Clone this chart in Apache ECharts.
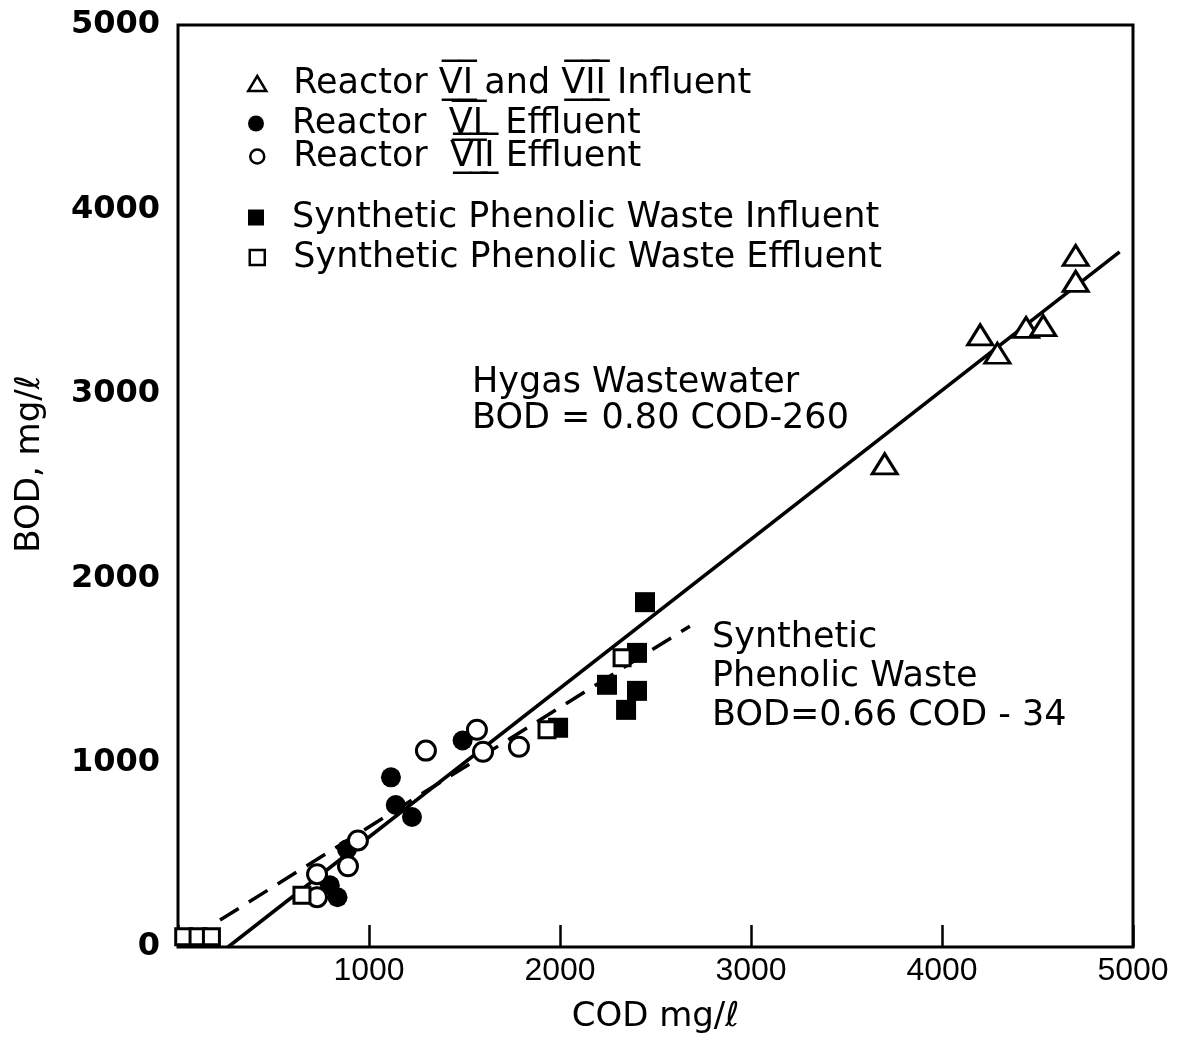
<!DOCTYPE html>
<html><head><meta charset="utf-8">
<script src="https://cdn.jsdelivr.net/npm/echarts@6/dist/echarts.min.js"></script>
<style>html,body{margin:0;padding:0;background:#fff}#c{width:1187px;height:1039px}</style>
</head><body><div id="c"></div>
<script>
// ---- data (COD mg/l, BOD mg/l) ----
const axisTicks = [0, 1000, 2000, 3000, 4000, 5000];

const influentCOD = [3700, 4200, 4290, 4440, 4530, 4700, 4700];
const influentBOD = [2620, 3320, 3220, 3360, 3370, 3750, 3610];

const r6EffCOD = [795, 835, 885, 1115, 1140, 1225, 1490];
const r6EffBOD = [335, 270, 530, 920, 770, 705, 1120];

const r7EffCOD = [728, 728, 890, 942, 1298, 1565, 1597, 1785];
const r7EffBOD = [395, 270, 438, 578, 1065, 1178, 1059, 1086];

const synInfCOD = [2445, 2403, 2246, 2403, 2346, 1990];
const synInfBOD = [1870, 1595, 1422, 1389, 1286, 1189];

const synEffCOD = [30, 105, 175, 649, 2325, 1932];
const synEffBOD = [55, 55, 55, 281, 1568, 1178];

const hygasLineCOD = [262, 4930];
const hygasLineBOD = [0, 3770];
const synLineCOD = [220, 2680];
const synLineBOD = [146, 1740];

const VI = 'V\u0305\u0332I\u0305\u0332';
const VII = 'V\u0305\u0332I\u0305\u0332I\u0305\u0332';
const names = [
  'Reactor ' + VI + ' and ' + VII + ' Influent',
  'Reactor  ' + VI + '  Effluent',
  'Reactor  ' + VII + ' Effluent',
  'Synthetic Phenolic Waste Influent',
  'Synthetic Phenolic Waste Effluent'
];
const legendRows = [84, 124, 157, 218, 258];

const zip = (a, b) => a.map((v, i) => [v, b[i]]);
const FONT = 'DejaVu Sans';

const chart = echarts.init(document.getElementById('c'));
const openStyle = {color: '#fff', borderColor: '#000', borderWidth: 3, opacity: 1};
const solidStyle = {color: '#000', opacity: 1};
const iconSizes = [[18, 15], [16, 16], [14, 14], [16, 16], [15, 15]];
const option = {
  animation: false,
  backgroundColor: '#fff',
  grid: {left: 178, right: 54, top: 25, bottom: 89, show: true, borderColor: '#000', borderWidth: 3, backgroundColor: 'transparent'},
  xAxis: {
    type: 'value', min: 0, max: 5000, interval: 1000,
    axisLine: {show: false},
    axisTick: {show: true, inside: true, length: 22, lineStyle: {color: '#000', width: 2.5}},
    splitLine: {show: false},
    axisLabel: {color: '#000', fontFamily: '"Liberation Sans Narrow", "Liberation Sans"', fontSize: 32, margin: 8,
      formatter: v => (v === 0 ? '' : String(v))},
    name: 'COD mg/ℓ', nameLocation: 'middle', nameGap: 53,
    nameTextStyle: {color: '#000', fontFamily: FONT, fontSize: 34}
  },
  yAxis: {
    type: 'value', min: 0, max: 5000, interval: 1000,
    axisLine: {show: false},
    axisTick: {show: false},
    splitLine: {show: false},
    axisLabel: {color: '#000', fontFamily: FONT, fontWeight: 'bold', fontSize: 32, margin: 18,
      formatter: v => String(v)},
    name: 'BOD, mg/ℓ', nameLocation: 'middle', nameGap: 131,
    nameTextStyle: {color: '#000', fontFamily: FONT, fontSize: 34, padding: [0, 0, 0, 44]}
  },
  legend: names.map((n, i) => ({
    data: [n], orient: 'vertical', left: 256 - iconSizes[i][0] / 2, top: legendRows[i] - 18, padding: 0,
    itemWidth: iconSizes[i][0], itemHeight: iconSizes[i][1], selectedMode: false,
    itemStyle: {borderWidth: 2.5},
    textStyle: {color: '#000', fontFamily: FONT, fontSize: 35,
      padding: [0, 0, 0, 292 - (256 + iconSizes[i][0] / 2) - 5]}
  })),
  graphic: [
    {type: 'text', left: 472, top: 365, z: 10,
      style: {text: 'Hygas Wastewater\nBOD = 0.80 COD-260', font: '35px "DejaVu Sans"', lineHeight: 36, fill: '#000'}},
    {type: 'text', left: 712, top: 618, z: 10,
      style: {text: 'Synthetic\nPhenolic Waste\nBOD=0.66 COD - 34', font: '35px "DejaVu Sans"', lineHeight: 39, fill: '#000'}}
  ],
  series: [
    {type: 'line', name: 'hygas', data: zip(hygasLineCOD, hygasLineBOD), showSymbol: false, silent: true, z: 1,
      lineStyle: {color: '#000', width: 3.5}},
    {type: 'line', name: 'synline', data: zip(synLineCOD, synLineBOD), showSymbol: false, silent: true, z: 1,
      lineStyle: {color: '#000', width: 3.5, type: [22, 12]}},
    {type: 'scatter', name: names[0], data: zip(influentCOD, influentBOD), symbol: 'triangle', symbolSize: [25, 20], z: 3,
      itemStyle: openStyle},
    {type: 'scatter', name: names[1], data: zip(r6EffCOD, r6EffBOD), symbol: 'circle', symbolSize: 20, z: 3,
      itemStyle: solidStyle},
    {type: 'scatter', name: names[2], data: zip(r7EffCOD, r7EffBOD), symbol: 'circle', symbolSize: 19, z: 4,
      itemStyle: openStyle},
    {type: 'scatter', name: names[3], data: zip(synInfCOD, synInfBOD), symbol: 'rect', symbolSize: 20, z: 3,
      itemStyle: solidStyle},
    {type: 'scatter', name: names[4], data: zip(synEffCOD, synEffBOD), symbol: 'rect', symbolSize: 16, z: 4,
      itemStyle: openStyle}
  ]
};
chart.setOption(option);
</script>
</body></html>
